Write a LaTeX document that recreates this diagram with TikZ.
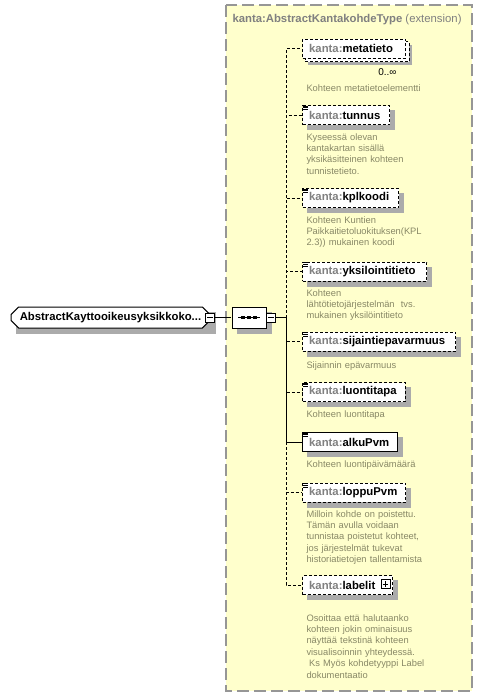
\documentclass[tikz,border=0pt]{standalone}
\usepackage{fontspec}
\setmainfont{Liberation Sans}
\usetikzlibrary{shapes.misc,backgrounds,calc}
\definecolor{paleyellow}{RGB}{255,255,204}
\definecolor{framegrey}{RGB}{150,150,150}
\definecolor{kantagrey}{RGB}{128,128,128}
\definecolor{doccol}{RGB}{136,136,102}
\newcommand{\kn}[1]{\textcolor{kantagrey}{kanta:}#1}
\tikzset{
  elem/.style={draw,fill=white,dash pattern=on 2.25pt off 1.5pt,line width=0.75pt,
    anchor=west,minimum height=14.25pt,inner xsep=5pt,inner ysep=0pt,text width=#1,
    font=\bfseries\fontsize{8.5}{10}\selectfont},
  doc/.style={anchor=base west,inner sep=0pt,text width=130pt,align=left,text=doccol,
    font=\fontsize{7}{8.6}\selectfont},
  opt/.style={dash pattern=on 2.25pt off 1.5pt},
  model/.style={chamfered rectangle,draw,fill=white,minimum height=15.75pt,inner sep=0pt,
    font=\bfseries\fontsize{8.5}{10}\selectfont},
  shadowed/.style={draw=black!33,fill=black!33,solid},
  toggle/.style={draw,fill=white,solid,minimum size=6.75pt,inner sep=0pt,line width=0.6pt},
  minusbox/.style={toggle,path picture={
    \draw[line width=0.6pt] ([xshift=-2.2pt]path picture bounding box.center) -- ([xshift=2.2pt]path picture bounding box.center);}},
  plusbox/.style={toggle,path picture={
    \draw[line width=0.6pt] ([xshift=-2.2pt]path picture bounding box.center) -- ([xshift=2.2pt]path picture bounding box.center)
      ([yshift=-2.2pt]path picture bounding box.center) -- ([yshift=2.2pt]path picture bounding box.center);}},
  % documentation mark
  pics/docmark/.style={code={
    \foreach \k in {0,1,2} \draw[line width=0.5pt] (0,\k*1.8) -- (5,\k*1.8);
  }},
}

\begin{document}
\begin{tikzpicture}[x=0.75pt,y=-0.75pt,line width=0.75pt]
  \useasboundingbox (0,0) rectangle (489,697);
  \node[anchor=base west,inner sep=0pt,text=kantagrey,font=\fontsize{8.5}{10}\selectfont] (typetitle) at (232,22.5)
    {\textbf{kanta:AbstractKantakohdeType} (extension)};

  \node[model,chamfered rectangle xsep=2.25pt,minimum width=149.25pt] (root) at (110.5,317.5) {AbstractKayttooikeusyksikkoko...};
  \node[model,chamfered rectangle xsep=5pt,chamfered rectangle ysep=5pt,minimum width=25.5pt] (seq) at (249,317.5) {};
  \draw[line width=0.75pt] ([xshift=-8.25pt]seq.center) -- ([xshift=8.25pt]seq.center);
  \foreach \dx in {-4.5,0,4.5}
    \fill ([xshift=\dx pt]seq.center) +(-2,-1.5) rectangle +(2,1.5);
  \node[minusbox] (rootmin) at (210,317.5) {};
  \node[minusbox] (seqmin) at (271,317.5) {};
  \coordinate (fork) at (286,317.5);

  \node[elem=67.25pt] (metatieto) at (302,48.5) {\kn{metatieto}};
  \node[anchor=base east,inner sep=0pt,font=\fontsize{7.5}{9}\selectfont] (metamult) at (397,75) {0..∞};
  \node[doc] (metatietodoc) at (306,91) {Kohteen metatietoelementti};

  \node[elem=55.25pt] (tunnus) at (302,115) {\kn{tunnus}};
  \node[doc] (tunnusdoc) at (306,140) {Kyseessä olevan\\kantakartan sisällä\\yksikäsitteinen kohteen\\tunnistetieto.};

  \node[elem=62pt] (kplkoodi) at (302,198) {\kn{kplkoodi}};
  \node[doc] (kplkoodidoc) at (306,223) {Kohteen Kuntien\\Paikkaitietoluokituksen(KPL\\2.3)) mukainen koodi};

  \node[elem=83pt] (yksilointitieto) at (302,271.5) {\kn{yksilointitieto}};
  \node[doc] (yksilointitietodoc) at (306,296) {Kohteen\\lähtötietojärjestelmän\ \ tvs.\\mukainen yksilöintitieto};

  \node[elem=104.75pt] (sijaintiepavarmuus) at (302,341.5) {\kn{sijaintiepavarmuus}};
  \node[doc] (sijaintiepavarmuusdoc) at (306,368) {Sijainnin epävarmuus};

  \node[elem=67pt] (luontitapa) at (302,392) {\kn{luontitapa}};
  \node[doc] (luontitapadoc) at (306,417) {Kohteen luontitapa};

  \node[elem=61.25pt,solid] (alkuPvm) at (302,442) {\kn{alkuPvm}};
  \node[doc] (alkuPvmdoc) at (306,467) {Kohteen luontipäivämäärä};

  \node[elem=67.25pt] (loppuPvm) at (302,492.5) {\kn{loppuPvm}};
  \node[doc] (loppuPvmdoc) at (306,517) {Milloin kohde on poistettu.\\Tämän avulla voidaan\\tunnistaa poistetut kohteet,\\jos järjestelmät tukevat\\historiatietojen tallentamista};

  \node[elem=57.5pt] (labelit) at (302,585) {\kn{labelit}};
  \node[plusbox] (labelitplus) at (385.5,584) {};
  \node[doc] (labelitdoc) at (306,621) {Osoittaa että halutaanko\\kohteen jokin ominaisuus\\näyttää tekstinä kohteen\\visualisoinnin yhteydessä.\\\hspace*{2pt}Ks Myös kohdetyyppi Label\\dokumentaatio};

  \foreach \n in {tunnus,kplkoodi,yksilointitieto,sijaintiepavarmuus,luontitapa,alkuPvm,loppuPvm}
    \pic at ($(\n.north west)+(1,1)$) {docmark};

  \draw (rootmin) -- (seq);
  \draw (seqmin) -- (fork);
  \foreach \n in {metatieto,tunnus,kplkoodi,yksilointitieto,sijaintiepavarmuus,luontitapa}
    \draw[opt] (fork) |- (\n.west);
  \foreach \n in {loppuPvm,labelit}
    \draw[opt] (fork |- alkuPvm.west) |- (\n.west);
  \draw (fork) |- (alkuPvm.west);

  \begin{scope}[on background layer]
    \draw[framegrey,fill=paleyellow,line width=1.3pt,dash pattern=on 9pt off 3.75pt] (226,5) rectangle (472,691);
    \node[model,shadowed,chamfered rectangle xsep=2.25pt,minimum width=149.25pt] (rootshadow) at ($(root.center)+(5,5)$) {};
    \node[model,shadowed,chamfered rectangle xsep=5pt,chamfered rectangle ysep=5pt,minimum width=25.5pt] (seqshadow) at ($(seq.center)+(5,5)$) {};
    \fill[black!33] ($(metatieto.north west)+(6,6)$) rectangle ($(metatieto.south east)+(6,6)$);
    \draw[opt,fill=white] ($(metatieto.north west)+(3,3)$) rectangle ($(metatieto.south east)+(3,3)$);
    \foreach \n in {tunnus,kplkoodi,yksilointitieto,sijaintiepavarmuus,luontitapa,alkuPvm,loppuPvm,labelit}
      \fill[black!33] ($(\n.north west)+(5,5)$) rectangle ($(\n.south east)+(5,5)$);
  \end{scope}
\end{tikzpicture}
\end{document}
